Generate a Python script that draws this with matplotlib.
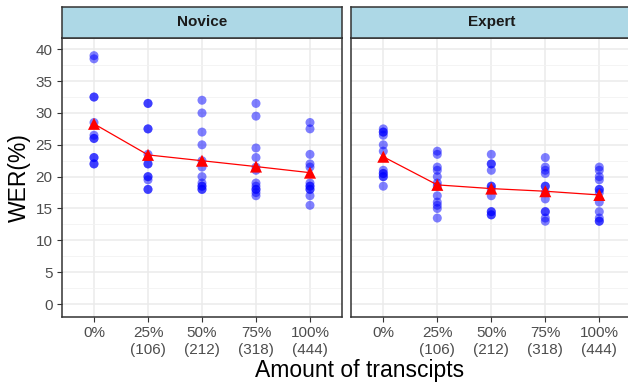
import numpy as np
import matplotlib
matplotlib.use("Agg")
import matplotlib.pyplot as plt

plt.rcParams['font.family'] = ['Liberation Sans', 'DejaVu Sans']

levels = ['0%', '25%\n(106)', '50%\n(212)', '75%\n(318)', '100%\n(444)']
groups = ['Novice', 'Expert']

# WER per participant, one list per amount of transcripts
novice_wer = [
    [39, 38.5, 32.5, 32.5, 28.5, 26.5, 26, 26, 23, 23, 22, 22],
    [31.5, 31.5, 27.5, 27.5, 23.5, 22, 22, 20, 20, 19.5, 18, 18],
    [32, 30, 27, 25, 22.5, 21.5, 20, 19, 18.5, 18.5, 18, 18],
    [31.5, 29.5, 24.5, 23, 21.5, 21, 19, 18.5, 18, 18, 17.5, 17],
    [28.5, 27.5, 23.5, 22, 21.5, 19, 18.5, 18.5, 18, 18, 17, 15.5],
]
expert_wer = [
    [27.5, 27, 27, 26.5, 25, 24, 21, 20.5, 20.5, 20, 20, 18.5],
    [24, 23.5, 21.5, 21, 20, 19, 18.5, 17, 16, 15.5, 15, 13.5],
    [23.5, 22, 22, 21, 18.5, 18.5, 18, 17, 14.5, 14.5, 14, 14],
    [23, 21.5, 21, 20.5, 18.5, 18.5, 17.5, 16.5, 14.5, 14.5, 13.5, 13],
    [21.5, 21, 20, 19.5, 18, 18, 17.5, 16, 14.5, 13.5, 13, 13],
]

W, H = 628, 383
fig = plt.figure(figsize=(W / 100, H / 100), dpi=100)
fig.patch.set_facecolor('white')

pw = 280.8
panel_left = [61.6, 350.9]
p_top, p_bot = 37.7, 317.0
s_top = 7.0

x = np.arange(1, len(levels) + 1)
for i, (name, data) in enumerate(zip(groups, [novice_wer, expert_wer])):
    ax = fig.add_axes([panel_left[i] / W, (H - p_bot) / H, pw / W, (p_bot - p_top) / H])
    ax.set_xlim(0.4, len(levels) + 0.6)
    ax.set_ylim(-2.04, 41.82)
    ax.set_yticks(np.arange(0, 41, 5))
    ax.set_yticks(np.arange(2.5, 41, 5), minor=True)
    ax.set_xticks(x)
    ax.grid(True, which='major', color='#EBEBEB', lw=1.1, zorder=0)
    ax.grid(True, which='minor', axis='y', color='#F2F2F2', lw=0.6, zorder=0)
    ax.set_axisbelow(True)
    for sp in ax.spines.values():
        sp.set_color('#333333')
        sp.set_linewidth(1.1)
    ax.tick_params(which='major', length=3.5, width=0.8, color='#333333',
                   labelcolor='#4D4D4D', labelsize=11, pad=3)
    ax.tick_params(which='minor', length=0)
    ax.set_xticklabels(levels, linespacing=1.25)
    if i == 0:
        ax.set_ylabel('WER(%)', fontsize=16.5, labelpad=3)
    else:
        ax.tick_params(axis='y', which='major', left=False, labelleft=False)

    for xi, vals in zip(x, data):
        ax.scatter(np.full(len(vals), xi), vals, s=42, color='blue', alpha=0.5,
                   edgecolors='none', zorder=3)
    means = [np.mean(v) for v in data]
    ax.plot(x, means, color='red', lw=0.9, zorder=4)
    ax.scatter(x, means, marker='^', s=75, color='red', edgecolors='none', zorder=5)

    # facet strip
    st = fig.add_axes([panel_left[i] / W, (H - p_top) / H, pw / W, (p_top - s_top) / H])
    st.set_facecolor('#ADD8E6')
    st.set_xticks([])
    st.set_yticks([])
    for sp in st.spines.values():
        sp.set_color('#333333')
        sp.set_linewidth(1.1)
    st.text(0.5, 0.5, name, ha='center', va='center', fontsize=11,
            fontweight='bold', color='#1A1A1A', transform=st.transAxes)

fig.text(360 / W, 1 - 371 / H, 'Amount of transcipts', ha='center', va='center', fontsize=16.5)

fig.savefig('out.png', dpi=100)
